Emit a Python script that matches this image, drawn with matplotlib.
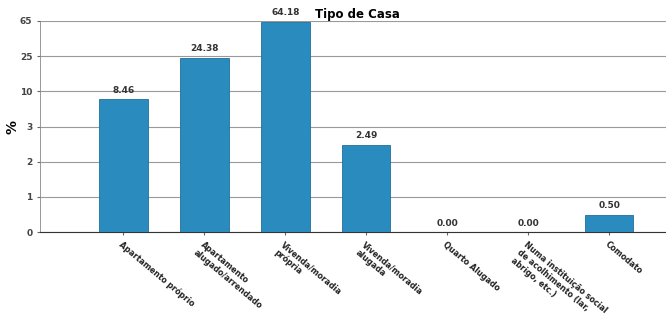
import numpy as np
import matplotlib
matplotlib.use('Agg')
from matplotlib import pyplot as plt

categories = ['Apartamento próprio',
              'Apartamento\nalugado/arrendado',
              'Vivenda/moradia\nprópria',
              'Vivenda/moradia\nalugada',
              'Quarto Alugado',
              'Numa instituição social\nde acolhimento (lar,\nabrigo, etc.)',
              'Comodato']
values = [8.46, 24.38, 64.18, 2.49, 0.00, 0.00, 0.50]
y_ticks = [0, 1, 2, 3, 10, 25, 65]

steps = np.arange(len(y_ticks))


def forward(v):
    return np.interp(v, y_ticks, steps)


def inverse(v):
    return np.interp(v, steps, y_ticks)


fig = plt.figure(figsize=(6.66, 3.27), dpi=100)
ax = fig.add_axes([0.06, 0.29, 0.97, 0.646])
ax.set_yscale('function', functions=(forward, inverse))
ax.set_ylim(0, 65)
ax.set_xlim(-1.03, 6.95)

x = np.arange(len(categories))
ax.bar(x, values, width=0.6, color='#2a8bbf', edgecolor='#1f6f9c', linewidth=0.6, zorder=3)
for xi, v in zip(x, values):
    ax.annotate('%.2f' % v, (xi, v), xytext=(0, 3), textcoords='offset points',
                ha='center', va='bottom', fontsize=6.5, fontweight='bold',
                color='#333333', zorder=4)

ax.set_yticks(y_ticks)
ax.set_yticklabels([str(t) for t in y_ticks], fontsize=6.5, fontweight='bold', color='#444444')
ax.yaxis.grid(True, color='#999999', linewidth=0.8, linestyle='-', zorder=0)
ax.set_xticks(x)
ax.set_xticklabels(categories, rotation=-40, ha='left', rotation_mode='anchor',
                   fontsize=5.8, fontweight='bold', color='#222222')
ax.tick_params(axis='both', length=2, color='#666666')
ax.set_ylabel('%', fontsize=10, fontweight='bold')
ax.yaxis.set_label_coords(-0.032, 0.5)

for side in ['top', 'right']:
    ax.spines[side].set_visible(False)
ax.spines['left'].set_color('#888888')
ax.spines['left'].set_linewidth(0.6)
ax.spines['bottom'].set_color('#333333')

fig.text(0.537, 0.955, 'Tipo de Casa', ha='center', va='center', fontsize=8.5, fontweight='bold')

fig.savefig('out.png', dpi=100)
